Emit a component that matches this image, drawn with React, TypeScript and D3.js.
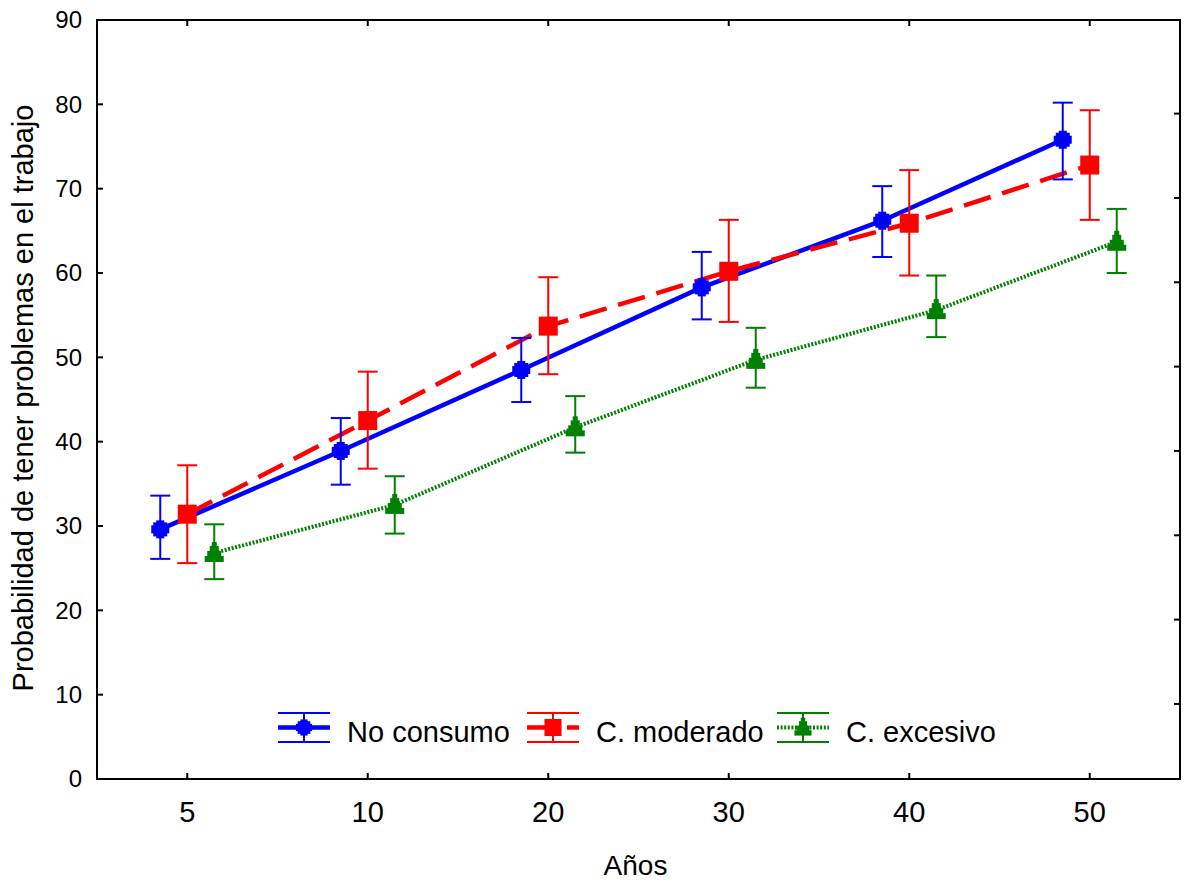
import React from "react";
import * as d3 from "d3";

const categories = ["5", "10", "20", "30", "40", "50"];
const seriesNames = ["No consumo", "C. moderado", "C. excesivo"];
const seriesColors = ["#0000ff", "#ff0000", "#008000"];

const noConsumoMean = [29.6, 38.9, 48.5, 58.3, 66.2, 75.8];
const noConsumoLow = [26.1, 34.9, 44.7, 54.5, 61.9, 71.1];
const noConsumoHigh = [33.6, 42.8, 52.3, 62.5, 70.3, 80.2];

const moderadoMean = [31.4, 42.5, 53.7, 60.2, 65.9, 72.8];
const moderadoLow = [25.6, 36.8, 48.0, 54.2, 59.7, 66.3];
const moderadoHigh = [37.2, 48.3, 59.5, 66.3, 72.2, 79.3];

const excesivoMean = [26.8, 32.5, 41.7, 49.7, 55.6, 63.7];
const excesivoLow = [23.7, 29.1, 38.7, 46.4, 52.4, 60.0];
const excesivoHigh = [30.2, 35.9, 45.4, 53.5, 59.7, 67.6];

const yTicks = [0, 10, 20, 30, 40, 50, 60, 70, 80, 90];
const rightTicks = [8.9, 18.9, 28.9, 38.9, 48.9, 58.9, 68.9, 78.9];

const xTitle = "Años";
const yTitle = "Probabilidad de tener problemas en el trabajo";

const W = 1184;
const H = 886;
const L = 97, R = 1180, T = 20, B = 779;
const FONT = "'Liberation Sans', Arial, sans-serif";

const series = [
  { name: seriesNames[0], color: seriesColors[0], mean: noConsumoMean, low: noConsumoLow, high: noConsumoHigh, dash: undefined as string | undefined, width: 4.5, marker: "plus" },
  { name: seriesNames[1], color: seriesColors[1], mean: moderadoMean, low: moderadoLow, high: moderadoHigh, dash: "28,12", width: 4.5, marker: "square" },
  { name: seriesNames[2], color: seriesColors[2], mean: excesivoMean, low: excesivoLow, high: excesivoHigh, dash: "2,1.6", width: 4, marker: "triangle" },
];

function Marker({ kind, color, x, y, k = 1 }: { kind: string; color: string; x: number; y: number; k?: number }) {
  if (kind === "plus") {
    return (
      <g transform={`translate(${x},${y}) scale(${k})`} fill={color}>
        <rect x={-9} y={-4} width={18} height={8} />
        <rect x={-4} y={-9} width={8} height={18} />
        <rect x={-7} y={-7} width={14} height={14} />
      </g>
    );
  }
  if (kind === "square") {
    return (
      <g transform={`translate(${x},${y}) scale(${k})`} fill={color}>
        <rect x={-9.5} y={-9.5} width={19} height={19} />
      </g>
    );
  }
  return (
    <g transform={`translate(${x},${y}) scale(${k})`} fill={color}>
      <rect x={-9.5} y={3} width={19} height={6} />
      <rect x={-7} y={-2} width={14} height={5.5} />
      <rect x={-4.5} y={-7} width={9} height={5.5} />
      <rect x={-2.5} y={-11} width={5} height={4.5} />
    </g>
  );
}

export default function App() {
  const x = d3.scalePoint<string>().domain(categories).range([L, R]).padding(0.5);
  const off = d3.scaleBand<string>().domain(seriesNames).range([-40.5, 40.5]);
  const y = d3.scaleLinear().domain([0, 90]).range([B, T]);
  const sx = (cat: string, s: string) => (x(cat) as number) + (off(s) as number) + off.bandwidth() / 2;

  const legendX = [278, 527, 777];
  const legendY = 727.5;

  const lineOrder = [2, 0, 1];

  return (
    <svg width={W} height={H} style={{ position: "absolute", left: 0, top: 0, background: "#fff" }} fontFamily={FONT}>
      <rect x={0} y={0} width={W} height={H} fill="#fff" />
      {/* frame */}
      <rect x={L} y={T} width={R - L} height={B - T} fill="none" stroke="#000" strokeWidth={2} />
      {/* left ticks + labels */}
      {yTicks.map((t) => (
        <g key={"yt" + t}>
          <line x1={L} x2={L + 6} y1={y(t)} y2={y(t)} stroke="#000" strokeWidth={2} />
          <text x={82} y={y(t)} dy="0.35em" textAnchor="end" fontSize={24} fill="#000">{t}</text>
        </g>
      ))}
      {/* right ticks */}
      {rightTicks.map((t) => (
        <line key={"rt" + t} x1={R - 6} x2={R} y1={y(t)} y2={y(t)} stroke="#000" strokeWidth={2} />
      ))}
      {/* x ticks top/bottom + labels */}
      {categories.map((c) => (
        <g key={"xt" + c}>
          <line x1={x(c)} x2={x(c)} y1={B} y2={B - 6} stroke="#000" strokeWidth={2} />
          <line x1={x(c)} x2={x(c)} y1={T} y2={T + 6} stroke="#000" strokeWidth={2} />
          <text x={x(c)} y={822} textAnchor="middle" fontSize={29} fill="#000">{c}</text>
        </g>
      ))}
      {/* titles */}
      <text x={(L + R) / 2 - 3} y={875} textAnchor="middle" fontSize={28} fill="#000">{xTitle}</text>
      <text transform={`translate(33,398) rotate(-90)`} textAnchor="middle" fontSize={29} fill="#000">{yTitle}</text>

      {/* lines */}
      {lineOrder.map((i) => {
        const s = series[i];
        const gen = d3.line<number>()
          .x((_, j) => sx(categories[j], s.name))
          .y((v) => y(v));
        return (
          <path key={"ln" + i} d={gen(s.mean) || ""} fill="none" stroke={s.color} strokeWidth={s.width} strokeDasharray={s.dash} />
        );
      })}

      {/* error bars + markers */}
      {series.map((s, i) => (
        <g key={"eb" + i}>
          {categories.map((c, j) => {
            const cx = sx(c, s.name);
            return (
              <g key={c}>
                <line x1={cx} x2={cx} y1={y(s.low[j])} y2={y(s.high[j])} stroke={s.color} strokeWidth={2} />
                <line x1={cx - 10} x2={cx + 10} y1={y(s.low[j])} y2={y(s.low[j])} stroke={s.color} strokeWidth={2} />
                <line x1={cx - 10} x2={cx + 10} y1={y(s.high[j])} y2={y(s.high[j])} stroke={s.color} strokeWidth={2} />
                <Marker kind={s.marker} color={s.color} x={cx} y={y(s.mean[j])} />
              </g>
            );
          })}
        </g>
      ))}

      {/* legend */}
      {series.map((s, i) => {
        const x0 = legendX[i];
        const cx = x0 + 26;
        return (
          <g key={"lg" + i}>
            <line x1={x0} x2={x0 + 52} y1={legendY - 14.5} y2={legendY - 14.5} stroke={s.color} strokeWidth={2} />
            <line x1={x0} x2={x0 + 52} y1={legendY + 14.5} y2={legendY + 14.5} stroke={s.color} strokeWidth={2} />
            <line x1={cx} x2={cx} y1={legendY - 14.5} y2={legendY + 14.5} stroke={s.color} strokeWidth={2} />
            <line x1={x0} x2={x0 + 52} y1={legendY} y2={legendY} stroke={s.color} strokeWidth={s.width} strokeDasharray={s.dash} />
            <Marker kind={s.marker} color={s.color} x={cx} y={legendY} k={0.9} />
            <text x={x0 + 69} y={742} fontSize={29} fill="#000">{s.name}</text>
          </g>
        );
      })}
    </svg>
  );
}
